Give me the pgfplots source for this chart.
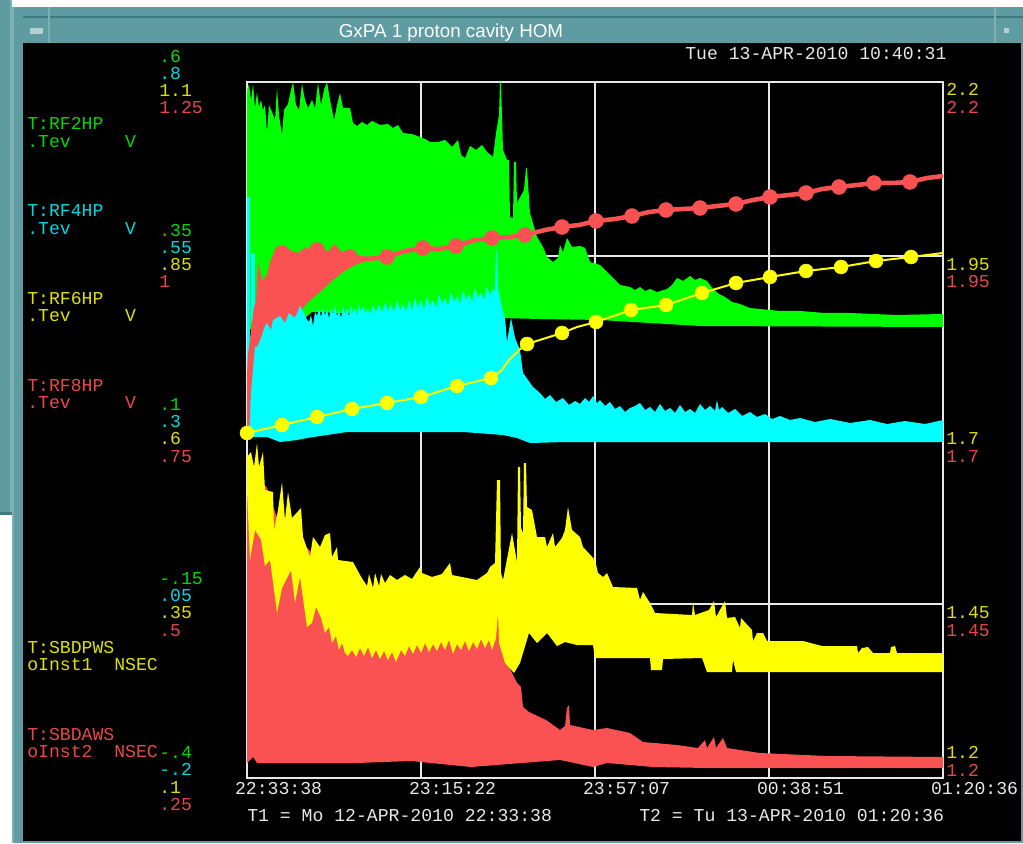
\documentclass[border=0pt]{standalone}
\usepackage{fontspec}
\usepackage{pgfplots}
\pgfplotsset{compat=1.18}
\setmonofont{Liberation Mono}
\setsansfont{Liberation Sans}

\definecolor{hpgreen}{HTML}{00FF00}
\definecolor{hpcyan}{HTML}{00FFFF}
\definecolor{hpyellow}{HTML}{FFFF00}
\definecolor{hpred}{HTML}{FA5252}
\definecolor{txgreen}{HTML}{00D800}
\definecolor{txcyan}{HTML}{00D8E0}
\definecolor{txyellow}{HTML}{E0E000}
\definecolor{txred}{HTML}{E84848}
\definecolor{txwhite}{HTML}{E8E8E8}
\definecolor{frame}{HTML}{5F9CA2}
\definecolor{framedark}{HTML}{3F7A80}
\definecolor{leftedge}{HTML}{7FB0B4}

\newcommand{\scr}{\fontsize{13.6pt}{15pt}\selectfont\ttfamily}
% filled envelope: colour, upper edge left to right, lower edge right to left
\newcommand{\band}[3]{%
  \addplot[fill=#1, draw=none, forget plot] coordinates {#2 #3};
}
% text by pixel position: colour, left x, centre y, string
\newcommand{\lab}[4]{\node[anchor=base west, inner sep=0pt, text=#1, font=\scr] at (#2,{843-#3-6}) {#4};}

\begin{document}
\begin{tikzpicture}
\begin{scope}[x=0.75pt, y=0.75pt]
\useasboundingbox (0,0) rectangle (1023,843);
% screen and window frame
\fill[white] (0,0) rectangle (1023,843);
\fill[frame] (0,328) rectangle (12,843);
\fill[framedark] (0,328) rectangle (12,331);
\fill[leftedge] (10,331) rectangle (12,843);
\fill[frame] (12,0) rectangle (1023,836);
\fill[leftedge] (12,0) rectangle (14,836);
\fill[black] (23,2) rectangle (1021,800);
\draw[framedark, line width=0.8pt] (23,826) -- (1023,826);
\draw[leftedge, line width=0.8pt] (49,800) -- (49,836);
\draw[leftedge, line width=0.8pt] (995,800) -- (995,836);
\fill[leftedge!60!white] (30,809) rectangle (43,815);
\fill[leftedge!60!white] (1004,810) rectangle (1009,815);
\node[text=white, font=\fontsize{14.1pt}{15pt}\selectfont\sffamily, inner sep=0pt] at (451,810) {GxPA 1 proton cavity HOM};
\end{scope}

\begin{axis}[
  at={(185.25pt,48.75pt)}, anchor=south west,
  width=522pt, height=522pt, scale only axis,
  xmin=0, xmax=696, ymin=0, ymax=696,
  xtick={0,174,348,522,696},
  ytick={174,348,522},
  xticklabels={22:33:38,23:15:22,23:57:07,00:38:51,01:20:36},
  yticklabels={,,},
  xticklabel style={text=txwhite, font=\scr, xshift=23.7pt},
  major tick length=0pt,
  grid=major,
  grid style={txwhite, line width=1.1pt},
  axis line style={txwhite, line width=1.1pt},
]
\band{hpgreen}{(0,688)(2,694)(4,678)(6,694)(8,670)(10,686)(12,671)(14,678)(16,668)(18,673)(20,646)(22,673)(25,666)(28,658)(30,690)(32,663)(35,643)(37,668)(41,674)(44,688)(46,696)(49,673)(52,668)(55,694)(58,678)(61,670)(65,678)(68,670)(71,695)(74,673)(77,688)(80,696)(83,678)(87,658)(90,673)(93,685)(96,670)(103,670)(106,655)(110,652)(115,656)(120,653)(125,657)(133,653)(141,654)(146,650)(151,653)(156,645)(165,644)(173,641)(178,639)(183,636)(191,636)(198,638)(205,631)(211,638)(214,623)(218,620)(223,632)(229,628)(235,633)(240,626)(246,621)(249,645)(252,663)(253,696)(254,696)(256,628)(260,618)(262,618)(263,561)(266,560)(267,616)(269,616)(270,575)(277,588)(279,610)(280,610)(283,565)(290,541)(296,531)(300,521)(306,516)(311,520)(313,533)(316,526)(320,540)(325,531)(333,532)(338,530)(343,516)(353,513)(358,508)(363,503)(368,498)(373,493)(383,491)(388,488)(393,491)(398,487)(403,489)(410,486)(420,489)(425,493)(430,500)(436,497)(443,502)(448,498)(453,500)(460,497)(466,489)(472,484)(478,481)(485,476)(493,474)(503,470)(513,469)(533,467)(553,467)(578,465)(603,465)(650,463)(696,464)}
  {(696,451)(453,452)(353,458)(293,459)(253,460)(65,466)(53,456)(0,448)}
\band{hpred}{(0,396)(5,438)(9,478)(11,516)(15,498)(19,500)(23,516)(28,528)(30,531)(35,522)(43,528)(51,525)(59,531)(65,526)(73,533)(81,526)(87,534)(95,526)(103,526)(113,522)(133,520)(140,520)}
  {(140,519)(120,517)(108,513)(96,506)(86,498)(73,486)(60,475)(53,466)(23,438)(6,350)(0,348)}
\band{hpcyan}{(0,375)(3,375)(8,431)(10,431)(14,440)(18,452)(20,455)(24,448)(26,458)(33,462)(38,455)(42,465)(48,460)(53,472)(58,463)(60,458)(62,456)(64,463)(66,452)(68,466)(70,462)(72,470)(74,461)(76,470)(78,463)(80,468)(82,460)(84,470)(86,464)(88,472)(90,462)(92,468)(94,460)(96,472)(98,464)(100,470)(102,462)(104,473)(106,465)(108,470)(110,463)(112,474)(114,466)(116,472)(118,464)(120,470)(123,464)(126,473)(129,466)(132,474)(135,465)(138,476)(141,467)(144,474)(147,466)(150,478)(153,468)(156,474)(159,466)(162,478)(165,468)(168,480)(171,470)(174,478)(177,468)(180,482)(183,472)(186,478)(189,470)(192,484)(195,474)(198,480)(201,472)(204,486)(207,476)(210,482)(213,474)(216,488)(219,478)(222,484)(225,476)(228,490)(231,480)(234,486)(237,478)(240,492)(243,482)(246,490)(248,485)(249,528)(250,528)(251,490)(255,470)(258,460)(260,436)(264,460)(268,440)(273,428)(276,405)(286,391)(293,385)(298,379)(303,383)(309,376)(316,380)(322,373)(328,377)(333,374)(338,380)(342,376)(346,382)(350,375)(353,378)(358,372)(363,376)(368,369)(373,372)(378,366)(383,370)(388,372)(393,375)(398,368)(403,371)(408,366)(413,374)(418,367)(423,370)(428,365)(433,373)(438,366)(443,369)(448,365)(453,374)(458,368)(463,372)(468,367)(470,378)(472,368)(475,371)(481,365)(488,369)(495,362)(503,366)(510,361)(518,364)(525,359)(533,362)(543,358)(553,360)(568,356)(583,359)(603,355)(623,358)(640,354)(658,357)(678,354)(696,358)}
  {(696,336)(320,336)(283,335)(270,340)(256,343)(216,346)(100,346)(80,343)(60,340)(50,338)(33,336)(20,341)(0,341)}
\band{hpred}{(0,300)(10,300)(20,290)(30,260)(50,240)(70,220)(100,180)(150,160)(200,150)(245,145)(251,170)(258,120)(265,105)(270,95)(274,91)(276,71)(282,66)(299,58)(313,48)(318,52)(320,70)(322,73)(323,53)(346,48)(360,50)(383,45)(396,36)(430,33)(451,30)(458,38)(460,30)(467,41)(469,30)(476,40)(480,30)(513,25)(580,22)(696,21)}
  {(696,10)(460,10)(406,11)(360,15)(346,11)(313,18)(224,11)(164,17)(110,15)(10,15)(6,21)(0,15)}
\band{hpyellow}{(0,321)(4,326)(7,311)(10,335)(12,311)(16,326)(18,288)(26,286)(27,248)(31,268)(35,296)(38,258)(41,286)(45,260)(54,270)(56,241)(63,221)(66,241)(73,231)(78,243)(83,245)(85,221)(90,231)(91,218)(106,216)(113,203)(116,198)(120,192)(122,204)(126,190)(128,205)(132,192)(134,204)(138,195)(143,203)(150,198)(158,203)(165,199)(173,211)(175,205)(185,201)(195,204)(203,215)(205,203)(220,200)(230,198)(240,205)(243,211)(248,215)(250,298)(253,298)(254,205)(256,198)(265,245)(270,216)(271,311)(273,311)(274,250)(276,245)(277,315)(279,315)(280,271)(285,268)(290,241)(298,241)(300,231)(306,245)(308,231)(315,240)(318,248)(321,271)(325,248)(333,241)(336,231)(348,218)(351,205)(356,201)(360,205)(366,191)(390,190)(393,178)(396,186)(403,175)(408,165)(445,163)(446,176)(448,163)(462,168)(467,177)(469,161)(478,177)(480,160)(488,161)(493,150)(494,160)(505,148)(506,137)(510,145)(516,145)(520,137)(556,137)(575,132)(610,132)(611,125)(615,130)(621,131)(626,125)(643,125)(644,131)(648,132)(650,125)(696,125)}
  {(696,106)(489,106)(486,118)(485,106)(460,106)(455,120)(416,119)(415,108)(404,108)(403,120)(348,120)(346,133)(330,133)(318,136)(310,132)(300,145)(290,135)(282,145)(273,115)(267,105)(258,115)(252,135)(251,165)(249,140)(245,128)(242,138)(238,130)(234,139)(230,129)(226,136)(222,127)(218,137)(214,128)(210,134)(206,124)(202,138)(198,128)(194,136)(190,127)(186,134)(182,126)(178,135)(174,125)(170,133)(166,124)(162,132)(158,122)(154,128)(149,116)(145,126)(141,118)(137,127)(133,119)(129,128)(125,120)(121,131)(117,122)(113,130)(109,121)(105,128)(101,122)(98,125)(95,135)(92,128)(89,142)(85,135)(82,151)(78,145)(74,160)(69,171)(65,155)(60,151)(53,201)(48,175)(44,208)(35,190)(30,165)(28,181)(23,218)(18,212)(14,238)(8,248)(3,218)(0,288)}
% cyan start-up spikes on the left edge
\addplot[hpcyan, line width=2.2pt, forget plot] coordinates {(1.5,396)(1.5,581)};
\addplot[hpcyan, line width=3.7pt, forget plot] coordinates {(6,455)(6,525)};
% red trace with its markers
\addplot[hpred, line width=3.4pt, mark=none] coordinates {(0,348)(3,420)(9,470)(20,500)(103,521)(120,519)(140,521)(158,527)(176,530)(192,529)(209,532)(228,538)(245,540)(262,541)(278,543)(298,548)(315,551)(332,553)(349,557)(368,559)(385,562)(402,566)(419,568)(436,569)(453,570)(470,572)(489,574)(506,578)(523,581)(542,583)(559,585)(575,589)(592,591)(610,593)(627,595)(645,595)(663,596)(680,600)(696,602)};
\addplot[hpred, only marks, mark=*, mark size=5.6pt] coordinates {(35,525)(70,528)(103,521)(140,521)(176,530)(209,532)(245,540)(278,543)(315,551)(349,557)(385,562)(419,568)(453,570)(489,574)(523,581)(559,585)(592,591)(627,595)(663,596)};
% yellow trace with its markers
\addplot[hpyellow, line width=1.5pt, mark=none] coordinates {(0,345)(35,353)(70,361)(105,369)(140,375)(174,381)(210,392)(244,400)(255,408)(262,418)(272,428)(280,434)(315,445)(330,451)(349,456)(384,468)(419,473)(455,485)(489,495)(523,501)(559,507)(594,511)(629,517)(664,521)(696,525)};
\addplot[hpyellow, only marks, mark=*, mark size=5.2pt] coordinates {(0,345)(35,353)(70,361)(105,369)(140,375)(174,381)(210,392)(244,400)(280,434)(315,445)(349,456)(384,468)(419,473)(455,485)(489,495)(523,501)(559,507)(594,511)(629,517)(664,521)};
\end{axis}

\begin{scope}[x=0.75pt, y=0.75pt]
\lab{txwhite}{685}{54}{Tue 13-APR-2010 10:40:31}
% left scale, top to bottom
\lab{txgreen}{159}{57}{.6}
\lab{txcyan}{159}{74}{.8}
\lab{txyellow}{159}{91}{1.1}
\lab{txred}{159}{108}{1.25}
\lab{txgreen}{159}{231}{.35}
\lab{txcyan}{159}{248}{.55}
\lab{txyellow}{159}{265}{.85}
\lab{txred}{159}{282}{1}
\lab{txgreen}{159}{405}{.1}
\lab{txcyan}{159}{422}{.3}
\lab{txyellow}{159}{439}{.6}
\lab{txred}{159}{456}{.75}
\lab{txgreen}{159}{578}{-.15}
\lab{txcyan}{159}{595}{.05}
\lab{txyellow}{159}{612}{.35}
\lab{txred}{159}{630}{.5}
\lab{txgreen}{159}{752}{-.4}
\lab{txcyan}{159}{769}{-.2}
\lab{txyellow}{159}{787}{.1}
\lab{txred}{159}{804}{.25}
% right scale
\lab{txyellow}{946}{90}{2.2}
\lab{txred}{946}{108}{2.2}
\lab{txyellow}{946}{265}{1.95}
\lab{txred}{946}{282}{1.95}
\lab{txyellow}{946}{439}{1.7}
\lab{txred}{946}{456}{1.7}
\lab{txyellow}{946}{612}{1.45}
\lab{txred}{946}{630}{1.45}
\lab{txyellow}{946}{752}{1.2}
\lab{txred}{946}{770}{1.2}
% device names
\lab{txgreen}{27}{124}{T:RF2HP}
\lab{txgreen}{27}{142}{.Tev~~~~~V}
\lab{txcyan}{27}{211}{T:RF4HP}
\lab{txcyan}{27}{229}{.Tev~~~~~V}
\lab{txyellow}{27}{299}{T:RF6HP}
\lab{txyellow}{27}{316}{.Tev~~~~~V}
\lab{txred}{27}{386}{T:RF8HP}
\lab{txred}{27}{403}{.Tev~~~~~V}
\lab{txyellow}{27}{647}{T:SBDPWS}
\lab{txyellow}{27}{664}{oInst1~~NSEC}
\lab{txred}{27}{734}{T:SBDAWS}
\lab{txred}{27}{751}{oInst2~~NSEC}
% time span
\lab{txwhite}{247}{815}{T1 = Mo 12-APR-2010 22:33:38}
\lab{txwhite}{639}{815}{T2 = Tu 13-APR-2010 01:20:36}
\end{scope}
\end{tikzpicture}
\end{document}
